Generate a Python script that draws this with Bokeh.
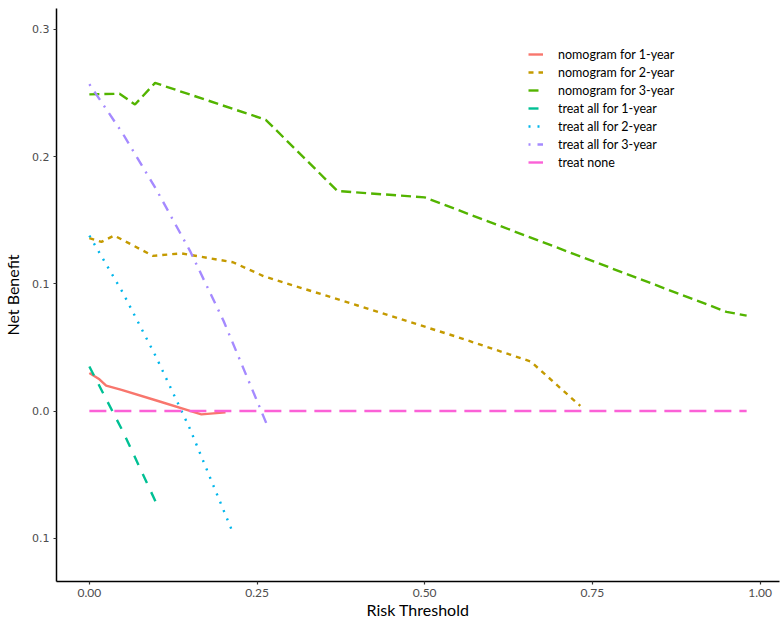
from bokeh.plotting import figure
from bokeh.models import Range1d, FixedTicker, Legend, LegendItem
from bokeh.embed import file_html
from bokeh.resources import INLINE

# ---- data ----
nom1_x = [0.0, 0.015, 0.025, 0.048, 0.10, 0.15, 0.167, 0.203]
nom1_y = [0.030, 0.025, 0.020, 0.0167, 0.0083, 0.0001, -0.0026, -0.001]

nom2_x = [0.0, 0.018, 0.037, 0.095, 0.137, 0.214, 0.26, 0.40, 0.55, 0.658, 0.732]
nom2_y = [0.136, 0.133, 0.138, 0.122, 0.124, 0.117, 0.106, 0.083, 0.058, 0.039, 0.004]

nom3_x = [0.0, 0.045, 0.068, 0.098, 0.263, 0.37, 0.50, 0.95, 0.98]
nom3_y = [0.249, 0.2495, 0.241, 0.258, 0.229, 0.173, 0.168, 0.078, 0.075]

all1_x = [0.0, 0.05, 0.103]
all1_y = [0.035, -0.016, -0.076]

all2_x = [0.0, 0.05, 0.10, 0.15, 0.215]
all2_y = [0.138, 0.093, 0.042, -0.014, -0.097]

all3_x = [0.0, 0.05, 0.10, 0.15, 0.20, 0.265]
all3_y = [0.257, 0.218, 0.174, 0.126, 0.071, -0.011]

none_x = [0.0, 0.98]
none_y = [0.0, 0.0]

labels = ["nomogram for 1-year", "nomogram for 2-year", "nomogram for 3-year",
          "treat all for 1-year", "treat all for 2-year", "treat all for 3-year",
          "treat none"]
colors = ["#F8766D", "#C49A00", "#53B400", "#00C094", "#00B6EB", "#A58AFF", "#FB61D7"]
dashes = ["solid", "5 5", "10 5", "10 10", "2 7", "2 7 10 7", "17 8"]

x_ticks = [0.0, 0.25, 0.5, 0.75, 1.0]
y_ticks = [-0.1, 0.0, 0.1, 0.2, 0.3]
y_tick_labels = ["0.1", "0.0", "0.1", "0.2", "0.3"]

series = [(nom1_x, nom1_y), (nom2_x, nom2_y), (nom3_x, nom3_y),
          (all1_x, all1_y), (all2_x, all2_y), (all3_x, all3_y), (none_x, none_y)]

p = figure(width=780, height=621, output_backend="svg", toolbar_location=None,
           x_range=Range1d(-0.049, 1.029), y_range=Range1d(-0.134, 0.3165),
           min_border_left=55, min_border_right=1, min_border_top=8, min_border_bottom=38)
p.outline_line_color = None
p.xgrid.visible = False
p.ygrid.visible = False
p.background_fill_color = "white"

items = []
for (xs, ys), lab, c, d in zip(series, labels, colors, dashes):
    r = p.line(xs, ys, line_color=c, line_width=2.4, line_dash=d)
    items.append(LegendItem(label=lab, renderers=[r]))

leg = Legend(items=items, location=(472, 410), padding=0, margin=0,
             border_line_color=None, background_fill_alpha=0,
             label_text_font="Lato", label_text_font_size="12.5px", label_text_color="black",
             glyph_width=15, glyph_height=18, label_height=18, label_standoff=15, spacing=0)
p.add_layout(leg)

for ax in (p.xaxis[0], p.yaxis[0]):
    ax.axis_line_color = "black"
    ax.axis_line_width = 1.5
    ax.major_tick_line_color = "#333333"
    ax.major_tick_line_width = 1.2
    ax.major_tick_in = 0
    ax.major_tick_out = 3
    ax.minor_tick_line_color = None
    ax.major_label_text_color = "#4D4D4D"
    ax.axis_label_text_font = "Lato"
    ax.axis_label_text_font_size = "16px"
    ax.axis_label_text_font_style = "normal"
    ax.axis_label_text_color = "black"

p.xaxis.ticker = FixedTicker(ticks=x_ticks)
p.xaxis.major_label_overrides = {t: f"{t:.2f}" for t in x_ticks}
p.xaxis.major_label_text_font = "Lato"
p.xaxis.major_label_text_font_size = "12px"
p.xaxis.axis_label = "Risk Threshold"
p.xaxis.major_label_standoff = 4
p.xaxis.axis_label_standoff = 0

p.yaxis.ticker = FixedTicker(ticks=y_ticks)
p.yaxis.major_label_overrides = {t: l for t, l in zip(y_ticks, y_tick_labels)}
p.yaxis.major_label_text_font = "DejaVu Sans"
p.yaxis.major_label_text_font_size = "11px"
p.yaxis.axis_label = "Net Benefit"
p.yaxis.major_label_standoff = 4
p.yaxis.axis_label_standoff = 7

open("out.html", "w").write(file_html(p, INLINE))
